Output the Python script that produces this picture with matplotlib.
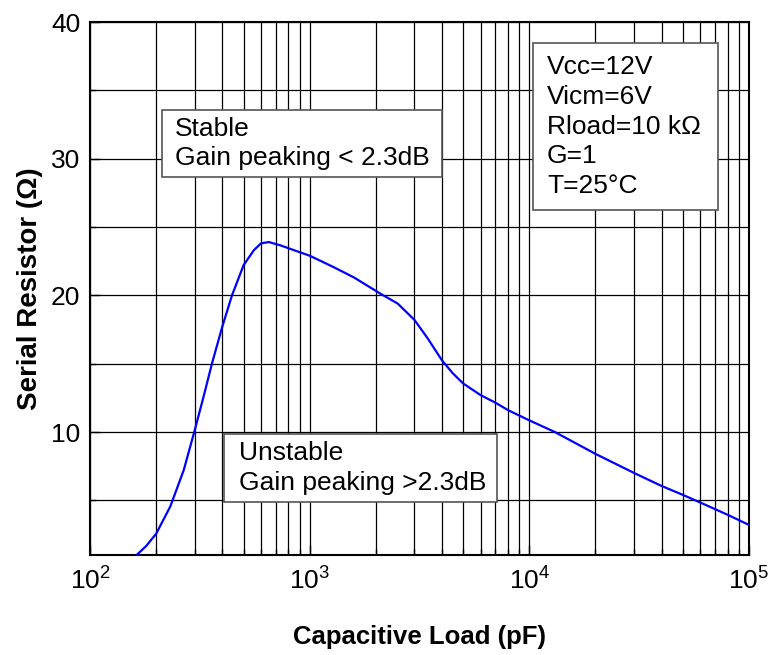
import numpy as np
import matplotlib
matplotlib.use('Agg')
import matplotlib.pyplot as plt
from matplotlib.patches import Rectangle
from matplotlib.ticker import LogLocator, MultipleLocator

plt.rcParams['font.family'] = ['Liberation Sans', 'DejaVu Sans']
plt.rcParams['mathtext.fontset'] = 'custom'
plt.rcParams['mathtext.rm'] = 'Liberation Sans'
plt.rcParams['mathtext.default'] = 'regular'

# values
cap_pf = [163, 180, 200, 232, 267, 300, 329, 359, 400, 443, 500, 557, 600, 652, 738, 800,
          1000, 1291, 1594, 2110, 2515, 3000, 3446, 4000, 4480, 5000, 6000, 7000, 8000,
          10000, 13060, 20000, 30000, 40000, 50000, 60000, 80000, 100000]
res_ohm = [1.0, 1.65, 2.55, 4.55, 7.2, 10.15, 12.6, 15.0, 17.7, 20.0, 22.2, 23.3, 23.8, 23.9, 23.65, 23.45,
           22.9, 22.05, 21.3, 20.1, 19.4, 18.2, 16.85, 15.25, 14.3, 13.55, 12.7, 12.15, 11.6,
           10.85, 10.0, 8.4, 7.0, 6.05, 5.4, 4.84, 3.94, 3.2]

stable_txt = 'Stable\nGain peaking < 2.3dB'
unstable_txt = 'Unstable\nGain peaking >2.3dB'
cond_txt = 'Vcc=12V\nVicm=6V\nRload=10 k\u03a9\nG=1\nT=25\u00b0C'

fig = plt.figure(figsize=(7.7, 6.55), dpi=100)
ax = fig.add_axes([90/770, 1-555/655, 659/770, 533/655])

ax.plot(cap_pf, res_ohm, color='#0000ff', lw=1.6, zorder=3)

ax.set_xscale('log')
ax.set_xlim(100, 1e5)
ax.set_ylim(1, 40)
ax.yaxis.set_major_locator(MultipleLocator(10))
ax.yaxis.set_minor_locator(MultipleLocator(5))
ax.xaxis.set_minor_locator(LogLocator(base=10, subs=np.arange(2, 10)))
ax.grid(True, which='both', color='black', lw=0.9)
ax.set_axisbelow(True)

ax.tick_params(which='both', direction='in', labelsize=19, colors='black')
ax.tick_params(which='major', length=7, width=1)
ax.tick_params(which='minor', length=4, width=1)
ax.tick_params(axis='x', pad=9)
ax.tick_params(axis='y', pad=7)
for s in ax.spines.values():
    s.set_linewidth(1.5)

ax.set_xlabel('Capacitive Load (pF)', fontsize=18.5, fontweight='bold', labelpad=22)
ax.set_ylabel('Serial Resistor (\u03a9)', fontsize=20, fontweight='bold', labelpad=6)

def box(x0, y0, x1, y1, tx, txt):
    ax.add_patch(Rectangle((x0, y0), x1-x0, y1-y0, transform=ax.transAxes,
                           facecolor='white', edgecolor='#555555', lw=1.2, zorder=4))
    ax.text(tx, (y0+y1)/2, txt, transform=ax.transAxes, ha='left', va='center',
            fontsize=19, linespacing=1.3, zorder=5)

box(0.109, 0.709, 0.534, 0.835, 0.129, stable_txt)
box(0.204, 0.100, 0.618, 0.227, 0.226, unstable_txt)
box(0.672, 0.647, 0.953, 0.9606, 0.6935, cond_txt)

fig.savefig('out.png', dpi=100)
